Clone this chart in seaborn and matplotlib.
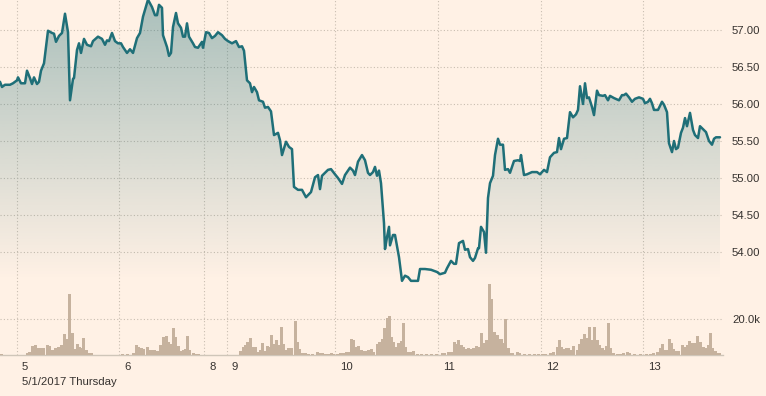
import numpy as np
import matplotlib
matplotlib.use("Agg")
import matplotlib.pyplot as plt
from matplotlib.transforms import ScaledTranslation
import seaborn as sns

# intraday price: time position along the axis and last price
price_t = [0, 2, 5, 10, 13, 17, 18, 21, 25, 27, 30, 32, 34, 37, 39, 41, 44, 48, 52, 54,
           56, 59, 62, 65, 68, 70, 73, 74, 77, 79, 81, 84, 87, 91, 93, 98, 102, 105, 107, 109,
           112, 115, 118, 121, 123, 127, 130, 133, 137, 140, 143, 148, 152, 155, 157, 159, 162, 163, 167, 169,
           171, 173, 176, 178, 181, 183, 185, 187, 189, 193, 195, 198, 202, 203, 206, 209, 212, 215, 218, 222,
           225, 228, 232, 236, 239, 242, 244, 247, 250, 252, 254, 257, 259, 263, 265, 268, 271, 274, 278, 280,
           282, 286, 289, 292, 294, 298, 302, 306, 311, 315, 318, 320, 322, 328, 331, 335, 338, 342, 345, 350,
           353, 355, 358, 362, 365, 368, 370, 373, 375, 377, 379, 381, 384, 385, 387, 389, 390, 393, 395, 399,
           402, 405, 408, 411, 418, 420, 425, 431, 437, 440, 445, 447, 451, 454, 456, 459, 463, 465, 468, 470,
           473, 475, 478, 479, 481, 484, 486, 488, 490, 493, 495, 498, 500, 503, 505, 508, 510, 514, 518, 520,
           521, 524, 527, 532, 537, 540, 544, 547, 550, 554, 557, 559, 561, 564, 567, 570, 573, 576, 578, 580,
           583, 585, 587, 589, 592, 594, 597, 599, 603, 605, 608, 610, 614, 619, 622, 624, 626, 629, 632, 635,
           639, 643, 645, 648, 650, 652, 654, 658, 662, 664, 667, 669, 672, 674, 676, 678, 681, 683, 685, 687,
           690, 693, 695, 698, 700, 703, 706, 709, 712, 714, 716, 720]
price = [56.30, 56.23, 56.26, 56.26, 56.28, 56.32, 56.36, 56.28, 56.28, 56.45, 56.35, 56.27, 56.36, 56.27, 56.30, 56.45, 56.55, 56.99, 56.96, 56.95,
         56.84, 56.92, 56.96, 57.22, 56.97, 56.05, 56.34, 56.35, 56.73, 56.82, 56.69, 56.88, 56.80, 56.78, 56.85, 56.91, 56.88, 56.80, 56.86, 56.85,
         56.96, 56.85, 56.82, 56.82, 56.77, 56.69, 56.74, 56.69, 56.89, 56.96, 57.18, 57.41, 57.31, 57.20, 57.20, 57.34, 57.30, 56.93, 56.77, 56.65,
         56.69, 57.04, 57.23, 57.09, 57.03, 56.91, 56.91, 57.09, 56.91, 56.82, 56.77, 56.76, 56.84, 56.76, 56.97, 56.96, 56.89, 56.92, 56.97, 56.93,
         56.88, 56.85, 56.82, 56.85, 56.77, 56.78, 56.72, 56.32, 56.28, 56.16, 56.23, 56.16, 56.05, 56.03, 55.95, 55.96, 55.90, 55.58, 55.61, 55.51,
         55.31, 55.49, 55.42, 55.39, 54.88, 54.84, 54.84, 54.74, 54.81, 55.01, 55.04, 54.85, 55.03, 55.11, 55.12, 55.05, 55.00, 54.92, 55.04, 55.14,
         55.10, 55.04, 55.22, 55.31, 55.24, 55.07, 55.04, 55.08, 55.15, 55.03, 55.10, 54.93, 54.39, 54.04, 54.20, 54.34, 54.09, 54.23, 54.23, 53.93,
         53.61, 53.68, 53.66, 53.61, 53.61, 53.77, 53.77, 53.76, 53.73, 53.70, 53.72, 53.78, 53.88, 53.84, 53.84, 54.12, 54.15, 54.03, 54.04, 53.93,
         53.88, 53.92, 54.05, 54.05, 54.34, 54.27, 53.99, 54.73, 54.93, 55.03, 55.31, 55.53, 55.45, 55.45, 55.11, 55.12, 55.07, 55.23, 55.24, 55.23,
         55.31, 55.04, 55.05, 55.08, 55.08, 55.05, 55.11, 55.08, 55.28, 55.34, 55.35, 55.54, 55.39, 55.53, 55.54, 55.89, 55.82, 55.86, 55.92, 56.24,
         56.00, 56.28, 56.08, 56.09, 55.96, 55.85, 56.18, 56.12, 56.11, 56.12, 56.05, 56.11, 56.08, 56.05, 56.12, 56.12, 56.14, 56.09, 56.03, 56.07,
         56.09, 56.07, 56.01, 56.03, 56.07, 56.01, 55.92, 55.92, 56.03, 55.99, 55.89, 55.47, 55.35, 55.50, 55.39, 55.41, 55.61, 55.68, 55.81, 55.70,
         55.88, 55.65, 55.58, 55.54, 55.70, 55.66, 55.62, 55.50, 55.45, 55.53, 55.55, 55.55]

# volume bars
vol_t = [1, 10, 16, 22, 27, 29, 32, 35, 38, 41, 43, 47, 49, 52, 55, 58, 61, 64, 67, 69,
         72, 74, 77, 79, 81, 83, 86, 88, 91, 96, 101, 106, 111, 116, 122, 127, 133, 136, 138, 141,
         143, 147, 149, 152, 154, 157, 160, 163, 166, 168, 171, 173, 175, 178, 180, 183, 185, 187, 189, 193,
         195, 198, 210, 215, 220, 230, 240, 243, 245, 247, 250, 253, 255, 257, 260, 262, 264, 267, 269, 271,
         273, 276, 278, 281, 283, 286, 288, 291, 295, 297, 299, 302, 305, 308, 312, 317, 319, 322, 325, 328,
         331, 333, 337, 340, 343, 346, 348, 351, 353, 356, 358, 361, 363, 366, 368, 371, 373, 377, 379, 382,
         384, 387, 389, 391, 393, 396, 398, 401, 403, 405, 408, 410, 413, 417, 421, 426, 431, 436, 442, 444,
         448, 451, 454, 456, 458, 461, 463, 466, 468, 471, 473, 476, 478, 481, 484, 486, 489, 491, 494, 497,
         499, 501, 503, 505, 508, 510, 512, 517, 519, 524, 529, 534, 538, 542, 545, 550, 553, 557, 559, 561,
         563, 566, 568, 571, 573, 577, 579, 581, 584, 587, 589, 591, 594, 597, 599, 602, 604, 606, 608, 610,
         613, 617, 620, 623, 627, 629, 634, 640, 646, 650, 653, 657, 660, 662, 664, 667, 669, 671, 673, 676,
         678, 682, 684, 687, 689, 692, 694, 697, 700, 703, 705, 708, 710, 712, 715, 717, 719]
volume = [500, 200, 200, 200, 900, 1800, 5200, 5600, 3700, 3700, 4100, 5600, 5000, 2800, 3700, 4400, 5600, 11500, 8900, 33700,
          12000, 3300, 5900, 4600, 4100, 9300, 2800, 1100, 900, 200, 200, 200, 200, 200, 400, 400, 900, 5600, 4600, 4100,
          3300, 4400, 2800, 2600, 2600, 2200, 5600, 10200, 10600, 7400, 5900, 15200, 10200, 4800, 2200, 2800, 3300, 10700, 2800, 900,
          700, 300, 200, 200, 200, 200, 2200, 4400, 5600, 7400, 9300, 4400, 4400, 1900, 2800, 6500, 2200, 5000, 4400, 11100,
          5900, 8300, 5600, 15600, 5900, 2800, 3700, 3700, 18900, 7000, 3300, 1300, 900, 400, 400, 1500, 900, 900, 700, 400,
          1100, 700, 600, 900, 900, 1900, 1900, 8900, 8300, 4400, 5000, 2800, 2200, 2200, 2800, 3300, 1900, 5900, 7000, 8900,
          14800, 20400, 21900, 10200, 7400, 4600, 6500, 7800, 17600, 4300, 1900, 1500, 2200, 600, 300, 300, 300, 400, 900, 900,
          1900, 1900, 7000, 5900, 8300, 5600, 4400, 3300, 3700, 3200, 3700, 4800, 4400, 12400, 6900, 8300, 39500, 31000, 13000, 11100,
          8700, 8700, 6500, 19800, 3700, 1300, 900, 1900, 900, 300, 300, 300, 300, 500, 500, 1300, 1900, 4600, 8300, 4600,
          3100, 3700, 3700, 2800, 5000, 2800, 6100, 8700, 11700, 9300, 15400, 8300, 15400, 8300, 5600, 3700, 2800, 5000, 17600, 3700,
          900, 500, 500, 900, 1900, 900, 300, 300, 300, 500, 900, 1900, 3700, 6100, 2800, 2800, 8700, 6500, 3300, 2400,
          2400, 5600, 4600, 5600, 8000, 6900, 6500, 10600, 7400, 4600, 3700, 5600, 12400, 4100, 2200, 900, 900]

day_pos = [17, 119, 204, 227, 335, 438, 541, 643]
day_labels = ["5", "6", "8", "9", "10", "11", "12", "13"]
price_ticks = [54.0, 54.5, 55.0, 55.5, 56.0, 56.5, 57.0]

BG = "#fff1e5"
LINE = "#1f6f78"
BAR = "#c6b29e"
GRID = "#c9beb1"
TEXT = "#36322f"

sns.set_theme(style="white", rc={"figure.facecolor": BG, "axes.facecolor": BG})
plt.rcParams["font.family"] = ["Liberation Sans", "DejaVu Sans"]

fig = plt.figure(figsize=(7.66, 3.96), dpi=100)
ax = fig.add_axes([0, 41 / 396, 723 / 766, 355 / 396])
ax.set_xlim(0, 723)
y_top = 57 + 30 / 74
y_bot = 57 - 325 / 74
ax.set_ylim(y_bot, y_top)

# gradient under the price line
fade_to = 57 - 250 / 74
grad = np.zeros((256, 1, 4))
grad[:, 0, :3] = matplotlib.colors.to_rgb(LINE)
grad[:, 0, 3] = np.linspace(0, 0.38, 256)
im = ax.imshow(grad, extent=[0, 723, fade_to, y_top], origin="lower",
               aspect="auto", zorder=1, interpolation="bilinear")
poly = ax.fill_between(price_t, price, fade_to, facecolor="none", edgecolor="none")
im.set_clip_path(poly.get_paths()[0], transform=ax.transData)

sns.lineplot(x=price_t, y=price, ax=ax, color=LINE, linewidth=1.8,
             sort=False, estimator=None, zorder=3)

ax.set_xticks(day_pos)
ax.set_xticklabels(day_labels)
ax.tick_params(axis="x", length=3.6, width=0.8, color="#b9b0a5", direction="out",
               pad=1.5, labelsize=8.2, labelcolor=TEXT)
shift = ScaledTranslation(5 / 100, 0, fig.dpi_scale_trans)
for lab in ax.get_xticklabels():
    lab.set_horizontalalignment("left")
    lab.set_transform(lab.get_transform() + shift)

ax.grid(True, axis="both", color=GRID, linestyle=(0, (1, 2)), linewidth=0.8)
for s in ["top", "left", "right"]:
    ax.spines[s].set_visible(False)
ax.spines["bottom"].set_color("#cfc6b9")
ax.spines["bottom"].set_linewidth(1)

# volume on a twin axis
ax2 = ax.twinx()
ax2.set_ylim(0, 355 / 36 * 20000)
ax2.bar(vol_t, volume, width=3.0, color=BAR, linewidth=0, zorder=2)
ax2.set_yticks([20000])
ax2.set_yticklabels(["20.0k"])
ax2.tick_params(axis="y", length=0, pad=6.5, labelsize=8.2, labelcolor=TEXT)
ax2.grid(True, axis="y", color=GRID, linestyle=(0, (1, 2)), linewidth=0.8)
ax2.set_xlim(0, 723)
for s in ax2.spines.values():
    s.set_visible(False)
ax2.patch.set_visible(False)

# price labels on the right (after twinx, which moves them left)
ax.yaxis.tick_right()
ax.set_yticks(price_ticks)
ax.set_yticklabels([f"{v:.2f}" for v in price_ticks])
ax.tick_params(axis="y", which="both", left=False, right=False, labelleft=False,
               labelright=True, length=0, pad=6.5, labelsize=8.2, labelcolor=TEXT)

ax.annotate("5/1/2017 Thursday", xy=(day_pos[0], 0), xycoords=("data", "axes fraction"),
            xytext=(5, -27), textcoords="offset pixels", ha="left", va="center",
            fontsize=8.2, color=TEXT, annotation_clip=False)

fig.savefig("out.png", dpi=100, facecolor=BG)
